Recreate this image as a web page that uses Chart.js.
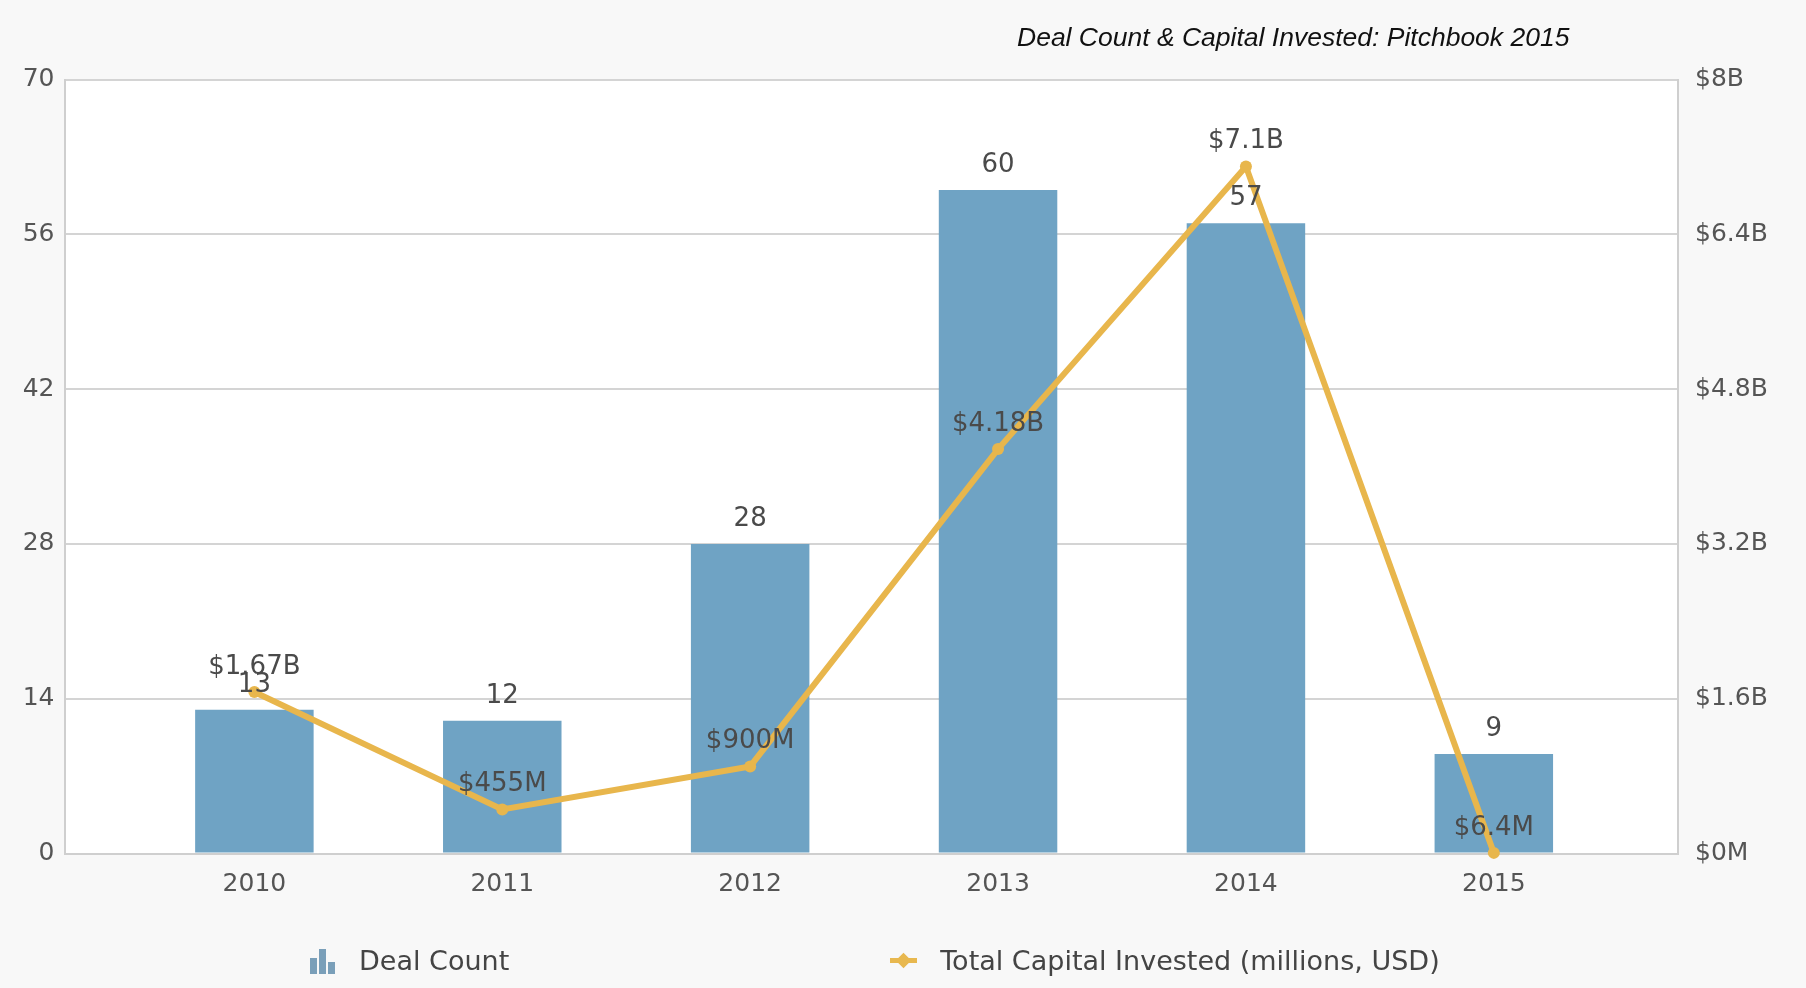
<!DOCTYPE html>
<html>
<head>
<meta charset="utf-8">
<title>Deal Count & Capital Invested</title>
<script src="https://cdn.jsdelivr.net/npm/chart.js@4.4.1/dist/chart.umd.min.js"></script>
<style>
  body { margin: 0; background: #f8f8f8; }
  #wrap { position: relative; width: 1806px; height: 988px; }
  #title { position: absolute; left: 1017px; top: 22px; font: italic 26.5px "Liberation Sans", Arial, sans-serif; color: #111; white-space: nowrap; }
  #legend { position: absolute; left: 309px; top: 945px; display: flex; align-items: center; font: 27px "DejaVu Sans", Verdana, sans-serif; color: #444; }
  .item { display: flex; align-items: center; }
  .item + .item { margin-left: 381px; }
  .icon { width: 27px; height: 27px; margin-right: 23px; position: relative; }
  .bars span { position: absolute; bottom: 0; width: 7px; background: #7a9fb9; }
  .lineicon .ln { position: absolute; left: 0; top: 11px; width: 27px; height: 5px; background: #e8b84f; }
  .lineicon .dm { position: absolute; left: 8px; top: 8px; width: 11px; height: 11px; background: #e8b84f; transform: rotate(45deg); }
</style>
</head>
<body>
<div id="wrap">
  <canvas id="chart"></canvas>
  <div id="title">Deal Count &amp; Capital Invested: Pitchbook 2015</div>
  <div id="legend"></div>
</div>
<script>
const years = ['2010', '2011', '2012', '2013', '2014', '2015'];
const dealCount = [13, 12, 28, 60, 57, 9];
const capitalInvested = [1670, 455, 900, 4180, 7100, 6.4]; // millions USD

const money = v => v >= 1000 ? '$' + (v / 1000) + 'B' : '$' + v + 'M';

// white plot area on grey page
const plotBg = {
  id: 'plotBg',
  beforeDraw(chart) {
    const a = chart.chartArea;
    chart.ctx.save();
    chart.ctx.fillStyle = '#ffffff';
    chart.ctx.fillRect(a.left, a.top, a.right - a.left, a.bottom - a.top);
    chart.ctx.restore();
  }
};

// value labels above bars and points
const valueLabels = {
  id: 'valueLabels',
  afterDatasetsDraw(chart) {
    const ctx = chart.ctx;
    ctx.save();
    ctx.font = '26px "DejaVu Sans", Verdana, sans-serif';
    ctx.fillStyle = '#4a4a4a';
    ctx.textAlign = 'center';
    ctx.textBaseline = 'middle';
    chart.data.datasets.forEach((ds, di) => {
      chart.getDatasetMeta(di).data.forEach((el, i) => {
        const v = ds.data[i].y;
        const txt = ds.type === 'line' ? money(v) : String(v);
        ctx.fillText(txt, el.x, el.y - 25);
      });
    });
    ctx.restore();
  }
};

const tickFont = { family: '"DejaVu Sans", Verdana, sans-serif', size: 25 };
const gridColor = '#d4d4d4';

const canvas = document.getElementById('chart');
canvas.width = 1806;
canvas.height = 988;

const chart = new Chart(canvas.getContext('2d'), {
  type: 'bar',
  data: {
    datasets: [{
      type: 'bar',
      label: 'Deal Count',
      data: years.map((y, i) => ({ x: i, y: dealCount[i] })),
      backgroundColor: '#6fa3c4',
      yAxisID: 'y',
      categoryPercentage: 1,
      barPercentage: 0.478,
      order: 1
    }, {
      type: 'line',
      label: 'Total Capital Invested (millions, USD)',
      data: years.map((y, i) => ({ x: i, y: capitalInvested[i] })),
      borderColor: '#e8b64c',
      backgroundColor: '#e8b64c',
      borderWidth: 6,
      pointRadius: 6,
      pointBackgroundColor: '#e8b64c',
      pointBorderWidth: 0,
      tension: 0,
      clip: false,
      yAxisID: 'y2',
      order: 0
    }]
  },
  options: {
    responsive: false,
    animation: false,
    layout: { padding: { top: 79.5, left: 0, right: 0, bottom: 0 } },
    plugins: {
      legend: { display: false },
      tooltip: { enabled: false },
      title: { display: false }
    },
    scales: {
      x: {
        type: 'linear',
        offset: false,
        min: -0.766,
        max: 5.743,
        afterBuildTicks: s => { s.ticks = years.map((y, i) => ({ value: i })); },
        afterFit: s => { s.height = 134.5; },
        ticks: {
          callback: v => years[v],
          font: tickFont,
          color: '#555',
          padding: 8,
          maxRotation: 0
        },
        grid: { display: false, offset: false },
        border: { display: true, color: '#cfcfcf', width: 2 }
      },
      y: {
        position: 'left',
        min: 0,
        max: 70,
        afterFit: s => { s.width = 64.5; },
        ticks: { stepSize: 14, font: tickFont, color: '#555', padding: 10 },
        grid: { color: gridColor, lineWidth: 2, drawTicks: false },
        border: { display: true, color: '#cfcfcf', width: 2 }
      },
      y2: {
        position: 'right',
        min: 0,
        max: 8000,
        afterFit: s => { s.width = 128; },
        ticks: { stepSize: 1600, font: tickFont, color: '#555', padding: 17, callback: v => money(v) },
        grid: { display: false, drawTicks: false },
        border: { display: true, color: '#cfcfcf', width: 2 }
      }
    }
  },
  plugins: [plotBg, valueLabels]
});

// html legend from the datasets
const legend = document.getElementById('legend');
chart.data.datasets.forEach(ds => {
  const item = document.createElement('div');
  item.className = 'item';
  const icon = document.createElement('div');
  if (ds.type === 'bar') {
    icon.className = 'icon bars';
    [[1, 16], [10, 25], [19, 12]].forEach(([l, h]) => {
      const b = document.createElement('span');
      b.style.left = l + 'px';
      b.style.height = h + 'px';
      icon.appendChild(b);
    });
  } else {
    icon.className = 'icon lineicon';
    icon.innerHTML = '<div class="ln"></div><div class="dm"></div>';
  }
  const txt = document.createElement('span');
  txt.textContent = ds.label;
  item.appendChild(icon);
  item.appendChild(txt);
  legend.appendChild(item);
});
</script>
</body>
</html>
